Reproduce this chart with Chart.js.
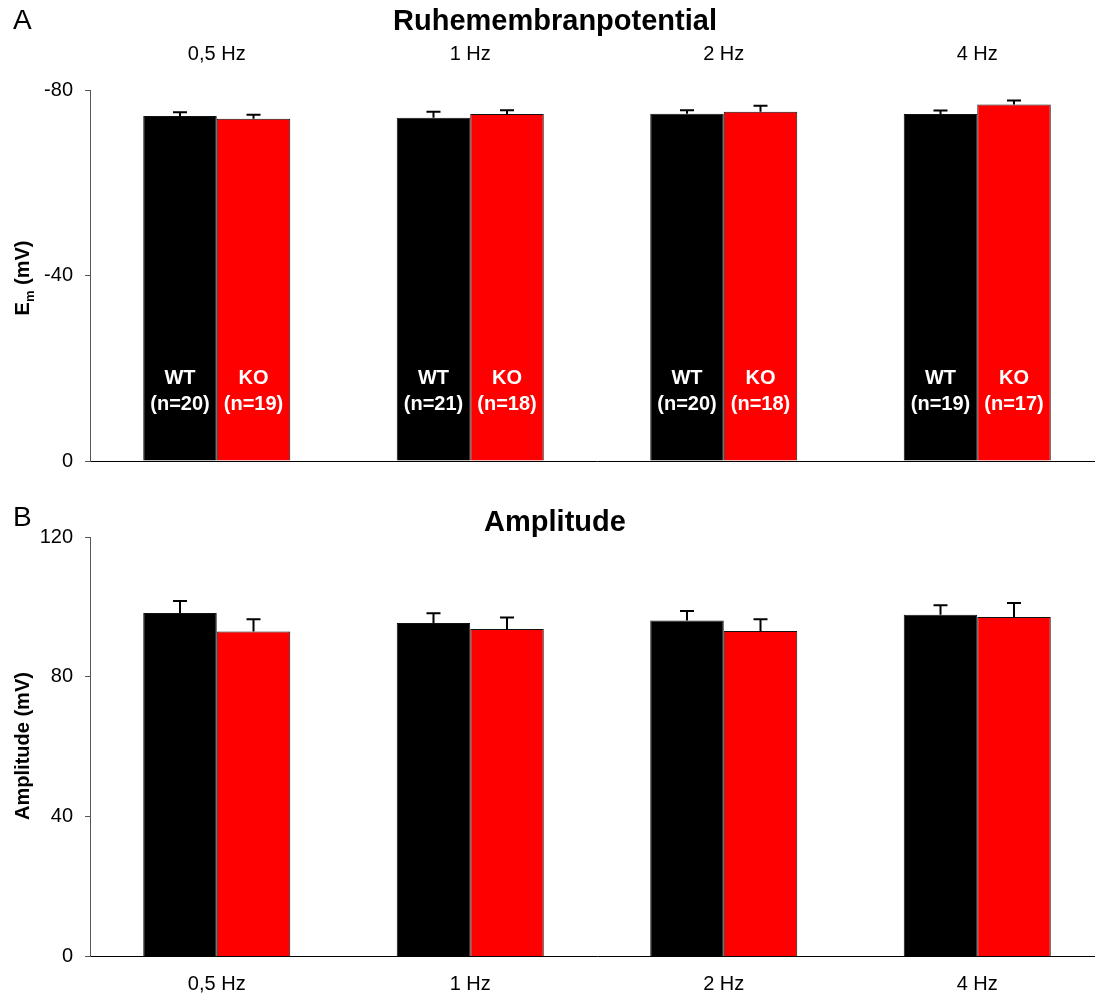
<!DOCTYPE html>
<html>
<head>
<meta charset="utf-8">
<script src="https://cdn.jsdelivr.net/npm/chart.js@4.4.1/dist/chart.umd.min.js"></script>
<style>
  html, body { margin: 0; padding: 0; background: #fff; overflow: hidden; }
  #wrap { position: relative; width: 1095px; height: 996px; overflow: hidden; }
  canvas { position: absolute; left: 0; }
  #cA { top: 0; }
  #cB { top: 500px; }
</style>
</head>
<body>
<div id="wrap">
  <canvas id="cA" width="1104" height="500"></canvas>
  <canvas id="cB" width="1104" height="496"></canvas>
</div>
<script>
// Stimulation frequencies
const categories = ['0,5 Hz', '1 Hz', '2 Hz', '4 Hz'];

// Resting membrane potential (mV), mean and SEM
const restWT = [-74.4, -74.0, -74.9, -74.8];
const restKO = [-73.8, -74.8, -75.3, -76.9];
const restErrWT = [0.8, 1.3, 0.75, 0.8];
const restErrKO = [0.85, 0.85, 1.3, 0.85];

// Action potential amplitude (mV), mean and SEM
const ampWT = [98.3, 95.4, 96.1, 97.8];
const ampKO = [93.0, 93.7, 93.1, 97.1];
const ampErrWT = [3.4, 2.8, 2.75, 2.7];
const ampErrKO = [3.5, 3.3, 3.4, 4.0];

// Group sizes
const nWT = ['(n=20)', '(n=21)', '(n=20)', '(n=19)'];
const nKO = ['(n=19)', '(n=18)', '(n=18)', '(n=17)'];

// Axis ticks
const restTicks = [-80, -40, 0];
const ampTicks = [0, 40, 80, 120];

const FONT = "'Liberation Sans', Arial, Helvetica, sans-serif";
Chart.defaults.font.family = FONT;
Chart.defaults.color = '#000';

// Upward SEM whiskers with a short cap
const errorBars = {
  id: 'errorBars',
  afterDatasetsDraw(chart, args, opts) {
    const ctx = chart.ctx;
    const y = chart.scales.y;
    ctx.save();
    ctx.strokeStyle = '#000';
    ctx.lineWidth = 2;
    chart.data.datasets.forEach((ds, i) => {
      const meta = chart.getDatasetMeta(i);
      meta.data.forEach((bar, j) => {
        const v = ds.data[j];
        const e = ds.errors[j];
        const tip = y.getPixelForValue(v + opts.sign * e);
        ctx.beginPath();
        ctx.moveTo(bar.x, bar.y);
        ctx.lineTo(bar.x, tip);
        ctx.moveTo(bar.x - 7, tip);
        ctx.lineTo(bar.x + 7, tip);
        ctx.stroke();
      });
    });
    ctx.restore();
  }
};

// Panel letter, title and rotated axis title
const decorations = {
  id: 'decorations',
  afterDraw(chart, args, opts) {
    const ctx = chart.ctx;
    ctx.save();
    ctx.fillStyle = '#000';
    ctx.textBaseline = 'middle';
    ctx.textAlign = 'left';
    ctx.font = '28px ' + FONT;
    ctx.fillText(opts.letter, 13, opts.letterY);
    ctx.textAlign = 'center';
    ctx.font = 'bold 29px ' + FONT;
    ctx.fillText(opts.title, 555, opts.titleY);

    // rotated y-axis title, optional subscript
    ctx.translate(22, opts.axisY);
    ctx.rotate(-Math.PI / 2);
    ctx.textAlign = 'left';
    ctx.textBaseline = 'alphabetic';
    const big = 'bold 20px ' + FONT, small = 'bold 13px ' + FONT;
    ctx.font = big;
    const w1 = ctx.measureText(opts.axisMain).width;
    ctx.font = small;
    const w2 = opts.axisSub ? ctx.measureText(opts.axisSub).width : 0;
    ctx.font = big;
    const w3 = ctx.measureText(opts.axisRest).width;
    let x = -(w1 + w2 + w3) / 2;
    const base = 7;
    ctx.fillText(opts.axisMain, x, base);
    x += w1;
    if (opts.axisSub) {
      ctx.font = small;
      ctx.fillText(opts.axisSub, x, base + 5);
      x += w2;
      ctx.font = big;
    }
    ctx.fillText(opts.axisRest, x, base);
    ctx.restore();
  }
};

// Genotype and group size written inside the bars
const groupLabels = {
  id: 'groupLabels',
  afterDatasetsDraw(chart, args, opts) {
    if (!opts.show) return;
    const ctx = chart.ctx;
    const bottom = chart.chartArea.bottom;
    ctx.save();
    ctx.fillStyle = '#fff';
    ctx.font = 'bold 20px ' + FONT;
    ctx.textAlign = 'center';
    ctx.textBaseline = 'middle';
    chart.data.datasets.forEach((ds, i) => {
      const meta = chart.getDatasetMeta(i);
      meta.data.forEach((bar, j) => {
        ctx.fillText(ds.label, bar.x, bottom - 83);
        ctx.fillText(ds.counts[j], bar.x, bottom - 57);
      });
    });
    ctx.restore();
  }
};

function yScale(min, max, tickValues, reverse) {
  return {
    type: 'linear',
    min: min,
    max: max,
    reverse: reverse,
    afterFit(s) { s.width = 90; },
    afterBuildTicks(s) { s.ticks = tickValues.map(v => ({ value: v })); },
    border: { display: true, color: '#555', width: 1 },
    grid: { display: true, drawOnChartArea: false, drawTicks: true, tickLength: 5, color: '#555', lineWidth: 1 },
    ticks: { padding: 12, font: { size: 20 }, color: '#000' }
  };
}

const barStyle = {
  borderColor: '#111',
  borderWidth: 1,
  barPercentage: 1.0,
  categoryPercentage: 0.58
};

new Chart(document.getElementById('cA'), {
  type: 'bar',
  data: {
    labels: categories,
    datasets: [
      Object.assign({ label: 'WT', data: restWT, errors: restErrWT, counts: nWT, backgroundColor: '#000' }, barStyle),
      Object.assign({ label: 'KO', data: restKO, errors: restErrKO, counts: nKO, backgroundColor: '#ff0000' }, barStyle)
    ]
  },
  options: {
    responsive: false,
    animation: false,
    devicePixelRatio: 1,
    layout: { padding: 0 },
    plugins: {
      legend: { display: false },
      tooltip: { enabled: false },
      errorBars: { sign: -1 },
      groupLabels: { show: true },
      decorations: { letter: 'A', letterY: 21, title: 'Ruhemembranpotential', titleY: 22,
                     axisY: 278, axisMain: 'E', axisSub: 'm', axisRest: ' (mV)' }
    },
    scales: {
      x: {
        type: 'category',
        position: 'top',
        offset: true,
        afterFit(s) { s.height = 90; },
        border: { display: false },
        grid: { display: false, drawTicks: false },
        ticks: { padding: 24, font: { size: 20 }, color: '#000' }
      },
      x2: {
        type: 'category',
        labels: categories,
        position: 'bottom',
        offset: true,
        afterFit(s) { s.height = 39; },
        border: { display: true, color: '#000', width: 1 },
        grid: { display: false, drawTicks: false },
        ticks: { display: false }
      },
      y: yScale(-80, 0, restTicks, true)
    }
  },
  plugins: [errorBars, groupLabels, decorations]
});

new Chart(document.getElementById('cB'), {
  type: 'bar',
  data: {
    labels: categories,
    datasets: [
      Object.assign({ label: 'WT', data: ampWT, errors: ampErrWT, counts: nWT, backgroundColor: '#000' }, barStyle),
      Object.assign({ label: 'KO', data: ampKO, errors: ampErrKO, counts: nKO, backgroundColor: '#ff0000' }, barStyle)
    ]
  },
  options: {
    responsive: false,
    animation: false,
    devicePixelRatio: 1,
    layout: { padding: { top: 37, left: 0, right: 0, bottom: 0 } },
    plugins: {
      legend: { display: false },
      tooltip: { enabled: false },
      errorBars: { sign: 1 },
      groupLabels: { show: false },
      decorations: { letter: 'B', letterY: 18, title: 'Amplitude', titleY: 23,
                     axisY: 246, axisMain: 'Amplitude (mV)', axisSub: '', axisRest: '' }
    },
    scales: {
      x: {
        type: 'category',
        position: 'bottom',
        offset: true,
        afterFit(s) { s.height = 39.3; },
        border: { display: true, color: '#000', width: 1 },
        grid: { display: false, drawTicks: false },
        ticks: { padding: 16, font: { size: 20 }, color: '#000' }
      },
      y: yScale(0, 120, ampTicks, false)
    }
  },
  plugins: [errorBars, groupLabels, decorations]
});
</script>
</body>
</html>
